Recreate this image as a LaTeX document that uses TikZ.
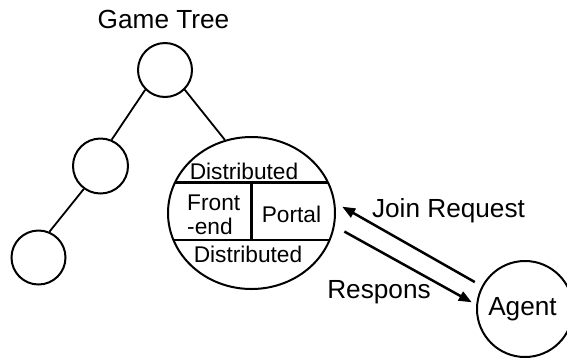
\documentclass[tikz,border=0pt]{standalone}
\usepackage{fontspec}
\setmainfont{Liberation Sans}
\usetikzlibrary{shapes.geometric,arrows.meta}
\begin{document}
\begin{tikzpicture}[x=1pt,y=-1pt,
  treenode/.style={draw,circle,line width=2pt,minimum size=54pt,inner sep=0pt},
  edge/.style={line width=1.8pt},
  divider/.style={line width=2.5pt},
  msg/.style={line width=2.5pt,-{Triangle[length=13pt,width=10pt]}},
  bigtext/.style={font=\fontsize{26.2}{30}\selectfont,inner sep=0pt,anchor=base},
  smalltext/.style={font=\fontsize{22.7}{27}\selectfont,inner sep=0pt,anchor=base}]
\clip (0,0) rectangle (567,360);
\node[treenode] (root) at (165,70) {};
\node[treenode,minimum size=55pt] (mid) at (100.5,166) {};
\node[treenode] (leaf) at (38.5,257.5) {};
\node[draw,ellipse,line width=2pt,minimum width=167pt,minimum height=152pt,inner sep=0pt] (srv) at (251.5,213) {};
\node[draw,circle,line width=2pt,minimum size=96pt,inner sep=0pt] (agent) at (525,309) {};
\begin{scope}
  \clip (251.5,213) ellipse [x radius=83.5pt, y radius=76pt];
  \draw[divider] (160,182.7) -- (345,182.7);
  \draw[divider] (160,240) -- (345,240);
\end{scope}
\draw[divider] (251.7,182.7) -- (251.7,240);
\draw[edge] (root.225) -- (mid.67);
\draw[edge] (root.-45) -- (srv.110);
\draw[edge] (mid.234) -- (leaf.67.5);
\draw[msg,shorten <=8pt,shorten >=8pt] (agent.152.5) -- (srv.7.5);
\draw[msg,shorten <=11pt,shorten >=5pt] (srv.-9) -- (agent.175.7);
\node[bigtext] (title) at (163.5,28.3) {Game Tree};
\node[smalltext] (d1) at (244,179) {Distributed};
\node[smalltext,anchor=base west] (fe1) at (187,210) {Front};
\node[smalltext,anchor=base west] (fe2) at (187,234) {-end};
\node[smalltext] (portal) at (291.5,222) {Portal};
\node[smalltext] (d2) at (248,262) {Distributed};
\node[bigtext] (jr) at (448.5,217) {Join Request};
\node[bigtext] (resp) at (379,298) {Respons};
\node[bigtext] (agt) at (522.5,315) {Agent};
\end{tikzpicture}
\end{document}
